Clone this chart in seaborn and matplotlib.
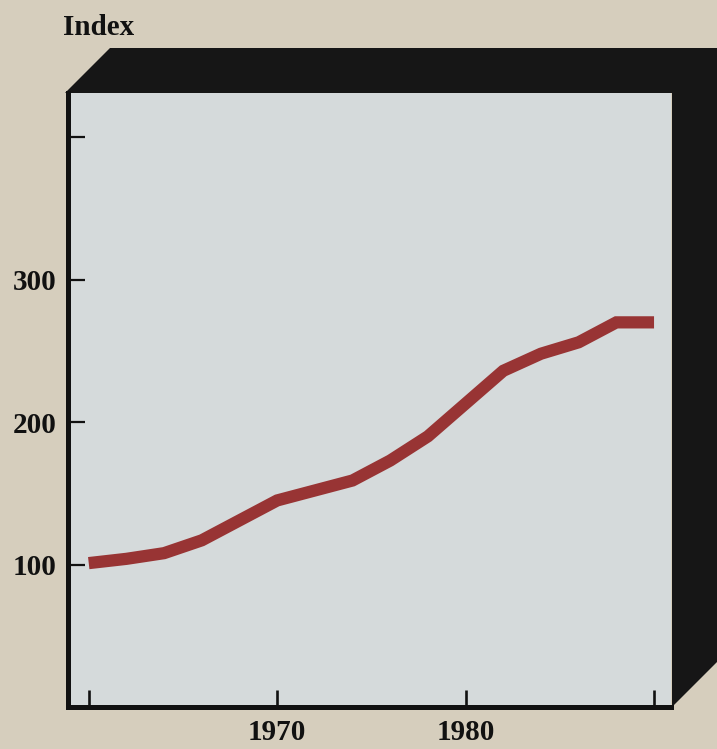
import matplotlib
matplotlib.use("Agg")
import matplotlib.pyplot as plt
from matplotlib.patches import Polygon
import pandas as pd
import seaborn as sns

# Index series, biennial readings
years = [1960, 1962, 1964, 1966, 1968, 1970, 1972, 1974, 1976, 1978,
         1980, 1982, 1984, 1986, 1988, 1990]
index_values = [101, 104, 108, 117, 131, 145, 152, 159, 173, 190,
                213, 236, 248, 256, 270, 270]

x_ticks = [1960, 1970, 1980, 1990]
x_tick_labels = ["", "1970", "1980", ""]
y_ticks = [100, 200, 300, 400]
y_tick_labels = ["100", "200", "300", ""]

df = pd.DataFrame({"year": years, "index": index_values})

sns.set_style("white")
plt.rcParams["font.family"] = ["Liberation Serif", "DejaVu Serif"]

W, H = 717, 749
fig = plt.figure(figsize=(W / 100, H / 100), dpi=100)
fig.patch.set_facecolor("#d6cebd")

def px(x, y):
    return (x / W, 1 - y / H)

# black extruded box behind the plotting panel
box = Polygon([px(65, 93), px(110, 48), px(717, 48), px(717, 662),
               px(672, 707), px(672, 93)],
              closed=True, transform=fig.transFigure,
              facecolor="#161616", edgecolor="none", zorder=0)
fig.patches.append(box)

left, right, top, bottom = 68, 671, 93, 707
ax = fig.add_axes([left / W, 1 - bottom / H, (right - left) / W, (bottom - top) / H])
ax.set_facecolor("#d5dadb")
ax.set_zorder(1)

sns.lineplot(data=df, x="year", y="index", ax=ax, color="#983434",
             linewidth=8.8, solid_capstyle="butt", solid_joinstyle="miter")

ax.set_xlim(1958.9, 1990.9)
ax.set_ylim(0, 431)

for side in ("top", "right"):
    ax.spines[side].set_visible(False)
for side in ("left", "bottom"):
    ax.spines[side].set_color("#111111")
    ax.spines[side].set_linewidth(3.6)

ax.set_xticks(x_ticks)
ax.set_xticklabels(x_tick_labels)
ax.set_yticks(y_ticks)
ax.set_yticklabels(y_tick_labels)
ax.tick_params(axis="both", direction="in", colors="#111111",
               bottom=True, left=True, labelsize=21, labelcolor="#111111")
ax.tick_params(axis="y", length=12.5, width=1.6, pad=8)
ax.tick_params(axis="x", length=12, width=1.9, pad=8.5)
for lbl in ax.get_xticklabels() + ax.get_yticklabels():
    lbl.set_fontweight("bold")

ax.set_xlabel("")
ax.set_ylabel("")
ax.text(-0.008, 1.107, "Index", transform=ax.transAxes, ha="left", va="center",
        fontsize=21, fontweight="bold", color="#111111")

fig.savefig("out.png", dpi=100, facecolor=fig.get_facecolor())
